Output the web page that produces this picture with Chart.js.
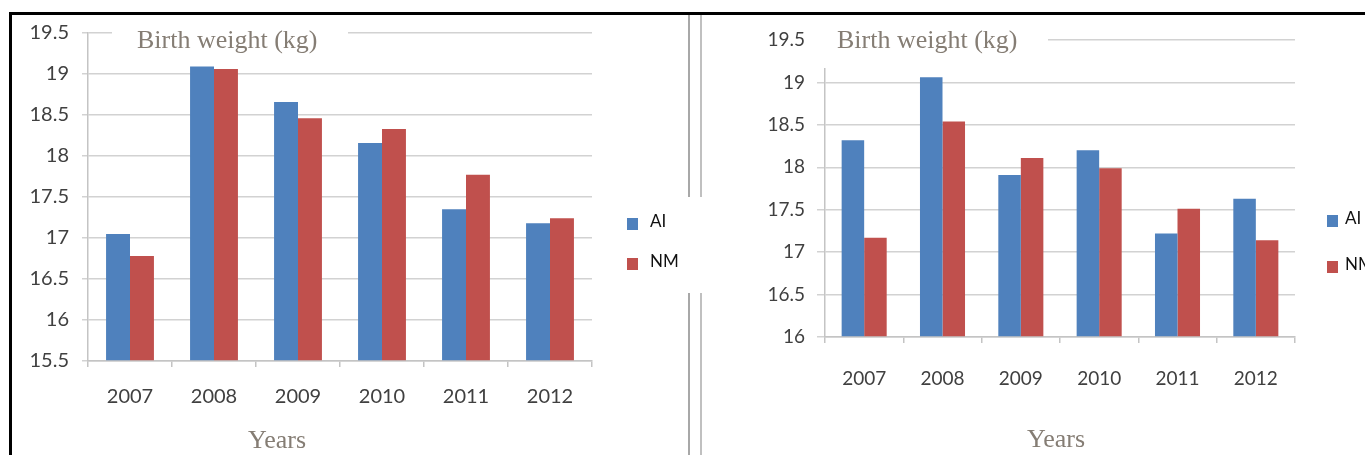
<!DOCTYPE html>
<html>
<head>
<meta charset="utf-8">
<script src="https://cdn.jsdelivr.net/npm/chart.js@4.4.0/dist/chart.umd.min.js"></script>
<style>
  body { margin: 0; background: #fff; width: 1365px; height: 455px; overflow: hidden; position: relative; }
  .rule { position: absolute; }
  canvas { position: absolute; top: 0; }
</style>
</head>
<body>
<!-- frame lines of the scanned figure -->
<div class="rule" style="left:10px; top:12px; width:1355px; height:3px; background:#000"></div>
<div class="rule" style="left:9px; top:12px; width:3px; height:443px; background:#000"></div>
<div class="rule" style="left:688px; top:15px; width:2px; height:440px; background:#a8a8a8"></div>
<div class="rule" style="left:700px; top:15px; width:2px; height:440px; background:#c0c0c0"></div>

<canvas id="chartLeft" width="702" height="455" style="left:0"></canvas>
<canvas id="chartRight" width="665" height="455" style="left:700px"></canvas>

<script>
// data
const years = ['2007', '2008', '2009', '2010', '2011', '2012'];
const seriesNames = ['AI', 'NM'];

const aiLeft = [17.05, 19.09, 18.66, 18.16, 17.35, 17.18];
const nmLeft = [16.78, 19.06, 18.46, 18.33, 17.77, 17.24];
const ticksLeft = [15.5, 16, 16.5, 17, 17.5, 18, 18.5, 19, 19.5];

const aiRight = [18.32, 19.06, 17.91, 18.20, 17.22, 17.63];
const nmRight = [17.17, 18.54, 18.11, 17.99, 17.51, 17.14];
const ticksRight = [16, 16.5, 17, 17.5, 18, 18.5, 19, 19.5];

const blue = '#4F81BD';
const red = '#C0504D';

// title over the top gridline, "Years" label and the side legend
const decor = {
  id: 'decor',
  afterDraw(chart, args, o) {
    const ctx = chart.ctx;
    ctx.save();
    ctx.fillStyle = '#fff';
    ctx.fillRect(o.titleBox[0], o.titleBox[1], o.titleBox[2], o.titleBox[3]);
    ctx.font = '26px "Liberation Serif", "Times New Roman", serif';
    ctx.fillStyle = '#857d74';
    ctx.textBaseline = 'alphabetic';
    ctx.textAlign = 'left';
    ctx.fillText('Birth weight (kg)', o.titleX, o.titleY);
    ctx.textAlign = 'center';
    ctx.fillText('Years', o.xTitleX, o.xTitleY);

    if (o.legendBox) {
      ctx.fillStyle = '#fff';
      ctx.fillRect(o.legendBox[0], o.legendBox[1], o.legendBox[2], o.legendBox[3]);
    }
    ctx.font = o.legendFont;
    ctx.textAlign = 'left';
    ctx.textBaseline = 'middle';
    chart.data.datasets.forEach((ds, i) => {
      const cy = o.legendY[i];
      ctx.fillStyle = ds.backgroundColor;
      ctx.fillRect(o.legendX, cy - 6, 11, 12);
      ctx.fillStyle = '#111';
      ctx.fillText(ds.label, o.legendTextX, cy - 2);
    });
    ctx.restore();
  }
};

function makeChart(id, ai, nm, ticks, cfg) {
  const yMin = ticks[0];
  const yMax = ticks[ticks.length - 1];
  return new Chart(document.getElementById(id), {
    type: 'bar',
    data: {
      labels: years,
      datasets: [
        { label: seriesNames[0], data: ai, backgroundColor: blue, base: yMin,
          categoryPercentage: cfg.catPct, barPercentage: 1 },
        { label: seriesNames[1], data: nm, backgroundColor: red, base: yMin,
          categoryPercentage: cfg.catPct, barPercentage: 1 }
      ]
    },
    options: {
      responsive: false,
      animation: false,
      layout: { padding: { left: 0, top: cfg.top, right: cfg.right, bottom: 0 } },
      plugins: {
        legend: { display: false },
        tooltip: { enabled: false },
        decor: cfg.decor
      },
      scales: {
        x: {
          afterFit: s => { s.height = cfg.xHeight; },
          grid: { drawOnChartArea: false, drawTicks: true, tickLength: 6, color: '#c4c4c4', lineWidth: 1.5 },
          border: { color: '#c4c4c4', width: 1.5 },
          ticks: { color: '#404040', font: cfg.tickFont, padding: cfg.xPad, maxRotation: 0 }
        },
        y: {
          min: yMin,
          max: yMax,
          afterFit: s => { s.width = cfg.yWidth; },
          afterBuildTicks: s => { s.ticks = ticks.map(v => ({ value: v })); },
          grid: { color: '#d2d2d2', lineWidth: 1.5, tickLength: cfg.yTick },
          border: { color: '#c4c4c4', width: 1.5 },
          ticks: { color: '#404040', font: cfg.tickFont, padding: cfg.yPad, callback: v => String(v) }
        }
      }
    },
    plugins: [decor]
  });
}

makeChart('chartLeft', aiLeft, nmLeft, ticksLeft, {
  catPct: 0.57, top: 33, right: 110, xHeight: 94, yWidth: 88,
  xPad: 18, yPad: 13, yTick: 6,
  tickFont: { family: 'Lato', size: 20 },
  decor: {
    titleBox: [112, 18, 236, 40], titleX: 137, titleY: 48,
    xTitleX: 277, xTitleY: 448,
    legendBox: [612, 197, 90, 96], legendX: 627, legendTextX: 650, legendY: [224, 264],
    legendFont: '17px Lato'
  }
});

makeChart('chartRight', aiRight, nmRight, ticksRight, {
  catPct: 0.575, top: 40, right: 70, xHeight: 118, yWidth: 125,
  xPad: 24, yPad: 12, yTick: 8,
  tickFont: { family: 'Lato', size: 19 },
  decor: {
    titleBox: [112, 18, 236, 50], titleX: 137, titleY: 48,
    xTitleX: 356, xTitleY: 447,
    legendBox: null, legendX: 627, legendTextX: 645, legendY: [221, 267],
    legendFont: '17px Lato'
  }
});
</script>
</body>
</html>
